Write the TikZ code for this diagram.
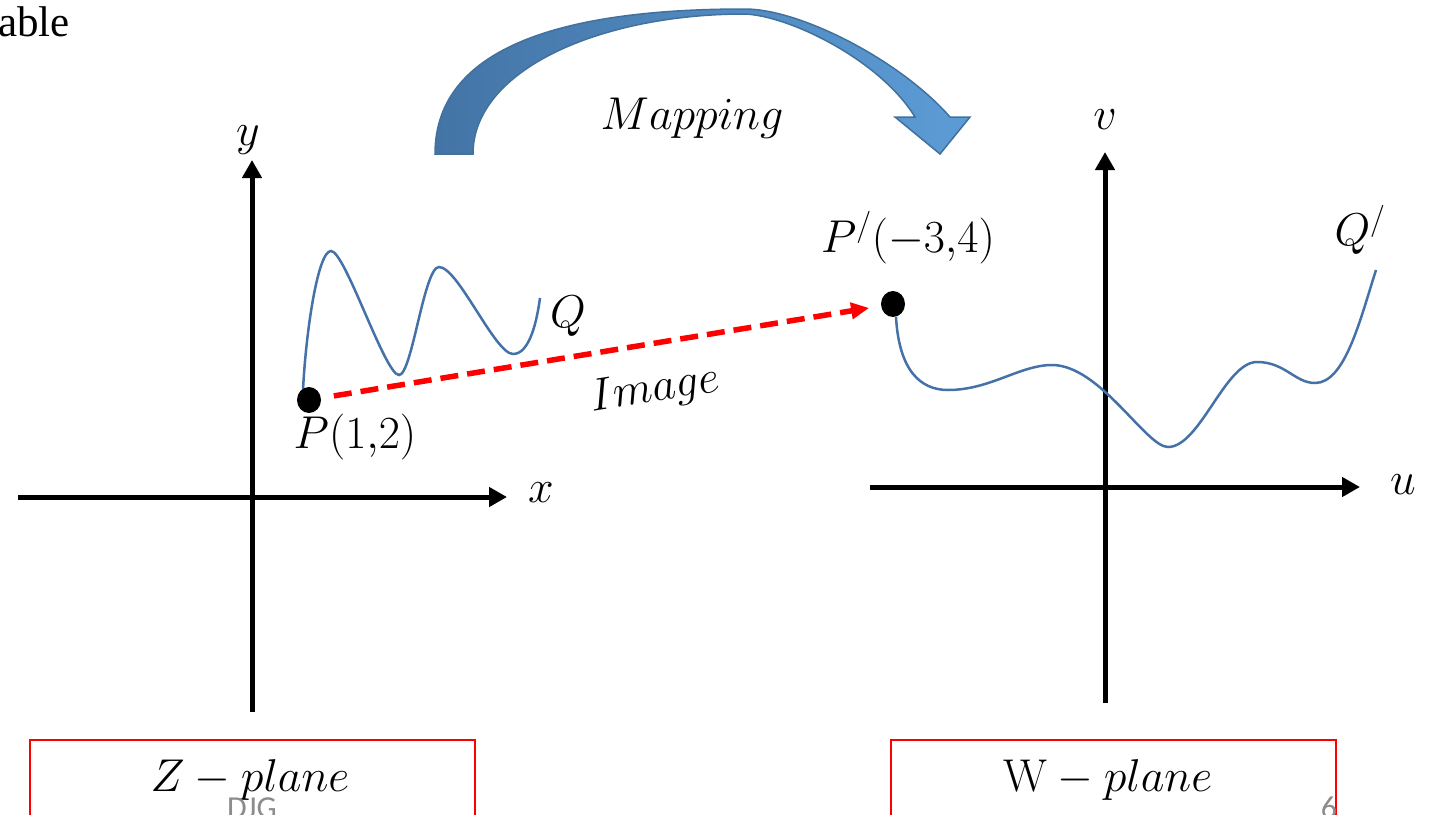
\RequirePackage{fix-cm}
\documentclass[tikz,border=0pt]{standalone}
\usepackage{fontspec}
\newfontfamily\timesfont{Liberation Serif}
\newfontfamily\calfont{Carlito}
\usetikzlibrary{arrows.meta,shapes.geometric}
\definecolor{curveblue}{RGB}{68,114,168}
\definecolor{mapdark}{RGB}{68,116,166}
\definecolor{maplight}{RGB}{92,156,214}
\definecolor{mapedge}{RGB}{65,113,156}
\definecolor{footgray}{RGB}{140,140,140}
\tikzset{
  axis/.style={line width=5pt, -{Triangle[length=18pt,width=19pt]}},
  curve/.style={curveblue, line width=2.5pt},
  dot/.style={ellipse, fill=black, inner sep=0pt, minimum width=24pt, minimum height=26pt},
  lbl/.style={inner sep=0pt, font=\fontsize{46}{52}\selectfont},
  imgarrow/.style={red, line width=5.5pt, dash pattern=on 18pt off 9pt, -{Triangle[length=18pt,width=16pt]}},
  planebox/.style={draw=red, line width=2pt, minimum width=445pt, minimum height=110pt, anchor=north, inner sep=0pt},
  foot/.style={inner sep=0pt, anchor=base, text=footgray, font=\calfont\fontsize{32}{32}\selectfont}
}
\begin{document}
\begin{tikzpicture}[x=1pt,y=-1pt]
\useasboundingbox (0,0) rectangle (1437,814);
\clip (0,0) rectangle (1437,814);
% top-left fragment
\node[anchor=base west, inner sep=0pt, font=\timesfont\fontsize{43}{48}\selectfont] (able) at (-2,36) {able};
% mapping arrow
\path[draw=mapedge, line width=1.5pt, left color=mapdark, right color=maplight]
  (435,154) .. controls (435,40) and (580,9) .. (745,9)
  .. controls (800,9) and (900,60) .. (950,117)
  -- (970,117) -- (940,154) -- (895,117) -- (915,117)
  .. controls (880,60) and (790,16) .. (745,14)
  .. controls (600,14) and (473,70) .. (473,154) -- cycle;
\node[lbl] (map) at (692,118) {$Mapping$};
% left axes
\coordinate (xl) at (18,497);
\coordinate (xr) at (507,497);
\coordinate (yb) at (252,712);
\coordinate (yt) at (252,160);
\draw[axis] (xl) -- (xr);
\draw[axis] (yb) -- (yt);
\node[lbl] (xlab) at (541,493) {$x$};
\node[lbl] (ylab) at (248,140) {$y$};
% right axes
\coordinate (ul) at (870,487);
\coordinate (ur) at (1360,487);
\coordinate (vb) at (1105,703);
\coordinate (vt) at (1105,152);
\draw[axis] (ul) -- (ur);
\draw[axis] (vb) -- (vt);
\node[lbl] (ulab) at (1403,485) {$u$};
\node[lbl] (vlab) at (1105,120) {$v$};
% left curve
\draw[curve] (303,390) .. controls (306,330) and (318,251) .. (331,251)
  .. controls (345,251) and (385,375) .. (399,375)
  .. controls (412,375) and (424,267) .. (439,267)
  .. controls (458,267) and (495,354) .. (513,354)
  .. controls (530,354) and (537,320) .. (540,298);
% right curve
\draw[curve] (896,317) .. controls (899,370) and (920,390) .. (948,390)
  .. controls (990,390) and (1020,365) .. (1052,365)
  .. controls (1100,365) and (1146,447) .. (1168,447)
  .. controls (1200,447) and (1225,362) .. (1257,362)
  .. controls (1285,362) and (1295,383) .. (1315,383)
  .. controls (1345,383) and (1360,320) .. (1376,270);
% points
\node[dot] (P) at (309,400) {};
\node[dot] (Pp) at (893,304) {};
\draw[imgarrow, shorten <=13pt, shorten >=12pt] (P) -- (Pp);
\node[lbl, rotate=9] (img) at (655,390) {$Image$};
\node[lbl] (Plab) at (355,437) {$P(1{,}2)$};
\node[lbl] (Pplab) at (908,238) {$P^{/}(-3{,}4)$};
\node[lbl] (Qlab) at (568,316) {$Q$};
\node[lbl] (Qplab) at (1360,230) {$Q^{/}$};
% plane boxes
\node[planebox] (zbox) at (252.5,739) {};
\node[planebox] (wbox) at (1113.5,739) {};
\node[lbl] (zlab) at (250,780) {$Z-plane$};
\node[lbl] (wlab) at (1108,780) {$\mathrm{W}-plane$};
% footer
\node[foot] (djg) at (252,818) {DJG};
\node[foot] (pg) at (1329,818) {6};
\end{tikzpicture}
\end{document}
